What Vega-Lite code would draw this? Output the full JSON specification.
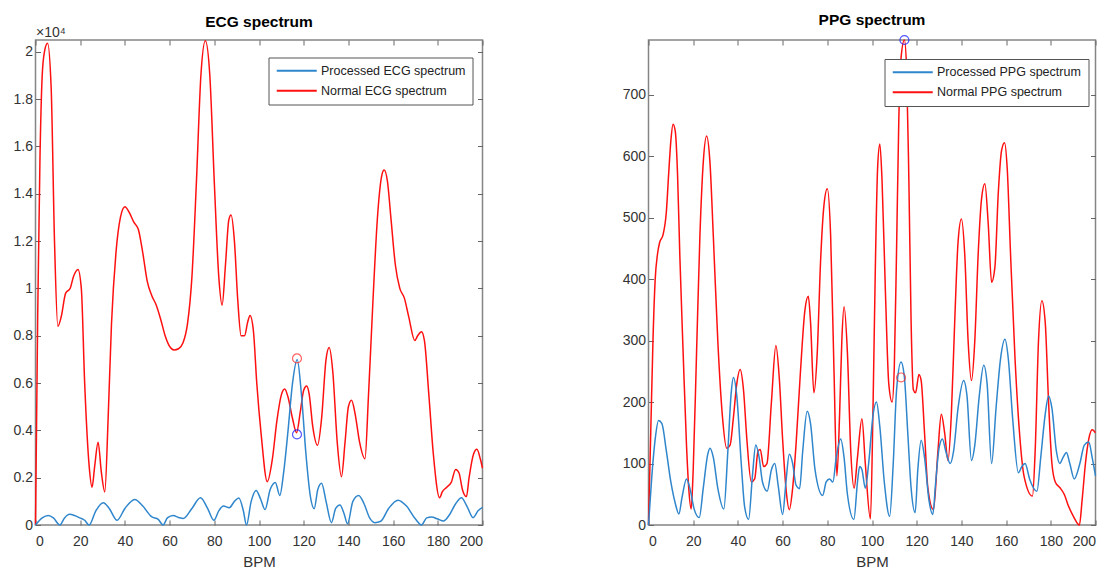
{
"$schema": "https://vega.github.io/schema/vega-lite/v6.json",
"padding": {"left": 11.5, "top": 12, "right": 12, "bottom": 4},
"background": "white",
"config": {
  "view": {"stroke": "#858585", "strokeWidth": 1.5},
  "font": "Liberation Sans",
  "axis": {"labelFont": "Liberation Sans", "labelFontSize": 14, "labelColor": "#333333", "titleFont": "Liberation Sans", "titleFontSize": 15, "titleFontWeight": "normal", "titleColor": "#333333", "grid": false, "domain": false, "tickColor": "#666666", "tickSize": -5, "tickWidth": 1},
  "title": {"font": "Liberation Sans", "fontSize": 15.5, "fontWeight": "bold", "color": "#000000", "frame": "group"},
  "legend": {"labelFont": "Liberation Sans", "labelFontSize": 12.5, "labelColor": "#222222"}
},
"datasets": {
  "ecg": [
    {"bpm":0,"val":0,"series":"Normal ECG spectrum"},
    {"bpm":1,"val":0.9,"series":"Normal ECG spectrum"},
    {"bpm":2,"val":1.55,"series":"Normal ECG spectrum"},
    {"bpm":3,"val":1.9,"series":"Normal ECG spectrum"},
    {"bpm":4,"val":2.0,"series":"Normal ECG spectrum"},
    {"bpm":5.4,"val":2.036,"series":"Normal ECG spectrum"},
    {"bpm":7,"val":1.85,"series":"Normal ECG spectrum"},
    {"bpm":8.5,"val":1.2,"series":"Normal ECG spectrum"},
    {"bpm":10,"val":0.84,"series":"Normal ECG spectrum"},
    {"bpm":11.5,"val":0.88,"series":"Normal ECG spectrum"},
    {"bpm":13.5,"val":0.98,"series":"Normal ECG spectrum"},
    {"bpm":15.5,"val":1.0,"series":"Normal ECG spectrum"},
    {"bpm":17,"val":1.05,"series":"Normal ECG spectrum"},
    {"bpm":19,"val":1.08,"series":"Normal ECG spectrum"},
    {"bpm":20.5,"val":1.0,"series":"Normal ECG spectrum"},
    {"bpm":22,"val":0.6,"series":"Normal ECG spectrum"},
    {"bpm":24,"val":0.25,"series":"Normal ECG spectrum"},
    {"bpm":25.3,"val":0.16,"series":"Normal ECG spectrum"},
    {"bpm":26.5,"val":0.25,"series":"Normal ECG spectrum"},
    {"bpm":28,"val":0.35,"series":"Normal ECG spectrum"},
    {"bpm":29.5,"val":0.22,"series":"Normal ECG spectrum"},
    {"bpm":31,"val":0.14,"series":"Normal ECG spectrum"},
    {"bpm":32.5,"val":0.45,"series":"Normal ECG spectrum"},
    {"bpm":34,"val":0.85,"series":"Normal ECG spectrum"},
    {"bpm":36,"val":1.15,"series":"Normal ECG spectrum"},
    {"bpm":38,"val":1.3,"series":"Normal ECG spectrum"},
    {"bpm":40,"val":1.345,"series":"Normal ECG spectrum"},
    {"bpm":42,"val":1.32,"series":"Normal ECG spectrum"},
    {"bpm":44,"val":1.28,"series":"Normal ECG spectrum"},
    {"bpm":46,"val":1.25,"series":"Normal ECG spectrum"},
    {"bpm":48,"val":1.15,"series":"Normal ECG spectrum"},
    {"bpm":50,"val":1.03,"series":"Normal ECG spectrum"},
    {"bpm":52,"val":0.97,"series":"Normal ECG spectrum"},
    {"bpm":54,"val":0.93,"series":"Normal ECG spectrum"},
    {"bpm":56,"val":0.87,"series":"Normal ECG spectrum"},
    {"bpm":58,"val":0.8,"series":"Normal ECG spectrum"},
    {"bpm":60,"val":0.755,"series":"Normal ECG spectrum"},
    {"bpm":62,"val":0.74,"series":"Normal ECG spectrum"},
    {"bpm":64,"val":0.745,"series":"Normal ECG spectrum"},
    {"bpm":66,"val":0.77,"series":"Normal ECG spectrum"},
    {"bpm":68,"val":0.85,"series":"Normal ECG spectrum"},
    {"bpm":70,"val":1.05,"series":"Normal ECG spectrum"},
    {"bpm":72,"val":1.45,"series":"Normal ECG spectrum"},
    {"bpm":74,"val":1.9,"series":"Normal ECG spectrum"},
    {"bpm":76,"val":2.047,"series":"Normal ECG spectrum"},
    {"bpm":78,"val":1.9,"series":"Normal ECG spectrum"},
    {"bpm":80,"val":1.45,"series":"Normal ECG spectrum"},
    {"bpm":82,"val":1.05,"series":"Normal ECG spectrum"},
    {"bpm":83.5,"val":0.93,"series":"Normal ECG spectrum"},
    {"bpm":85,"val":1.1,"series":"Normal ECG spectrum"},
    {"bpm":86.5,"val":1.29,"series":"Normal ECG spectrum"},
    {"bpm":87.5,"val":1.31,"series":"Normal ECG spectrum"},
    {"bpm":89,"val":1.2,"series":"Normal ECG spectrum"},
    {"bpm":90.5,"val":0.95,"series":"Normal ECG spectrum"},
    {"bpm":92,"val":0.8,"series":"Normal ECG spectrum"},
    {"bpm":93.5,"val":0.8,"series":"Normal ECG spectrum"},
    {"bpm":95,"val":0.86,"series":"Normal ECG spectrum"},
    {"bpm":96,"val":0.885,"series":"Normal ECG spectrum"},
    {"bpm":97.5,"val":0.82,"series":"Normal ECG spectrum"},
    {"bpm":99,"val":0.6,"series":"Normal ECG spectrum"},
    {"bpm":101,"val":0.38,"series":"Normal ECG spectrum"},
    {"bpm":103.7,"val":0.183,"series":"Normal ECG spectrum"},
    {"bpm":106,"val":0.28,"series":"Normal ECG spectrum"},
    {"bpm":108,"val":0.44,"series":"Normal ECG spectrum"},
    {"bpm":110,"val":0.55,"series":"Normal ECG spectrum"},
    {"bpm":111.5,"val":0.575,"series":"Normal ECG spectrum"},
    {"bpm":113,"val":0.54,"series":"Normal ECG spectrum"},
    {"bpm":115,"val":0.45,"series":"Normal ECG spectrum"},
    {"bpm":116.8,"val":0.39,"series":"Normal ECG spectrum"},
    {"bpm":118.5,"val":0.48,"series":"Normal ECG spectrum"},
    {"bpm":120,"val":0.57,"series":"Normal ECG spectrum"},
    {"bpm":121.3,"val":0.587,"series":"Normal ECG spectrum"},
    {"bpm":122.5,"val":0.55,"series":"Normal ECG spectrum"},
    {"bpm":124,"val":0.42,"series":"Normal ECG spectrum"},
    {"bpm":126.2,"val":0.337,"series":"Normal ECG spectrum"},
    {"bpm":128,"val":0.45,"series":"Normal ECG spectrum"},
    {"bpm":130,"val":0.7,"series":"Normal ECG spectrum"},
    {"bpm":131.4,"val":0.75,"series":"Normal ECG spectrum"},
    {"bpm":133,"val":0.65,"series":"Normal ECG spectrum"},
    {"bpm":135,"val":0.35,"series":"Normal ECG spectrum"},
    {"bpm":136.9,"val":0.204,"series":"Normal ECG spectrum"},
    {"bpm":138.5,"val":0.35,"series":"Normal ECG spectrum"},
    {"bpm":140,"val":0.5,"series":"Normal ECG spectrum"},
    {"bpm":141.4,"val":0.527,"series":"Normal ECG spectrum"},
    {"bpm":143,"val":0.47,"series":"Normal ECG spectrum"},
    {"bpm":145,"val":0.35,"series":"Normal ECG spectrum"},
    {"bpm":147.4,"val":0.28,"series":"Normal ECG spectrum"},
    {"bpm":149,"val":0.55,"series":"Normal ECG spectrum"},
    {"bpm":151,"val":0.95,"series":"Normal ECG spectrum"},
    {"bpm":153,"val":1.3,"series":"Normal ECG spectrum"},
    {"bpm":155,"val":1.48,"series":"Normal ECG spectrum"},
    {"bpm":156,"val":1.5,"series":"Normal ECG spectrum"},
    {"bpm":157.5,"val":1.45,"series":"Normal ECG spectrum"},
    {"bpm":159,"val":1.3,"series":"Normal ECG spectrum"},
    {"bpm":161,"val":1.1,"series":"Normal ECG spectrum"},
    {"bpm":163,"val":1.0,"series":"Normal ECG spectrum"},
    {"bpm":165,"val":0.96,"series":"Normal ECG spectrum"},
    {"bpm":167,"val":0.88,"series":"Normal ECG spectrum"},
    {"bpm":169.7,"val":0.78,"series":"Normal ECG spectrum"},
    {"bpm":171,"val":0.8,"series":"Normal ECG spectrum"},
    {"bpm":172.7,"val":0.817,"series":"Normal ECG spectrum"},
    {"bpm":174,"val":0.78,"series":"Normal ECG spectrum"},
    {"bpm":176,"val":0.55,"series":"Normal ECG spectrum"},
    {"bpm":178,"val":0.3,"series":"Normal ECG spectrum"},
    {"bpm":180.8,"val":0.115,"series":"Normal ECG spectrum"},
    {"bpm":182,"val":0.14,"series":"Normal ECG spectrum"},
    {"bpm":184,"val":0.16,"series":"Normal ECG spectrum"},
    {"bpm":186,"val":0.18,"series":"Normal ECG spectrum"},
    {"bpm":188,"val":0.235,"series":"Normal ECG spectrum"},
    {"bpm":189.5,"val":0.22,"series":"Normal ECG spectrum"},
    {"bpm":191,"val":0.15,"series":"Normal ECG spectrum"},
    {"bpm":192.8,"val":0.12,"series":"Normal ECG spectrum"},
    {"bpm":194,"val":0.2,"series":"Normal ECG spectrum"},
    {"bpm":196,"val":0.3,"series":"Normal ECG spectrum"},
    {"bpm":197.5,"val":0.32,"series":"Normal ECG spectrum"},
    {"bpm":199,"val":0.28,"series":"Normal ECG spectrum"},
    {"bpm":200,"val":0.24,"series":"Normal ECG spectrum"},
    {"bpm":0,"val":0,"series":"Processed ECG spectrum"},
    {"bpm":3,"val":0.03,"series":"Processed ECG spectrum"},
    {"bpm":5.7,"val":0.04,"series":"Processed ECG spectrum"},
    {"bpm":8,"val":0.03,"series":"Processed ECG spectrum"},
    {"bpm":10.9,"val":0,"series":"Processed ECG spectrum"},
    {"bpm":13,"val":0.03,"series":"Processed ECG spectrum"},
    {"bpm":15.3,"val":0.045,"series":"Processed ECG spectrum"},
    {"bpm":17.5,"val":0.04,"series":"Processed ECG spectrum"},
    {"bpm":19.8,"val":0.03,"series":"Processed ECG spectrum"},
    {"bpm":22,"val":0.02,"series":"Processed ECG spectrum"},
    {"bpm":24,"val":0,"series":"Processed ECG spectrum"},
    {"bpm":27,"val":0.06,"series":"Processed ECG spectrum"},
    {"bpm":30.3,"val":0.094,"series":"Processed ECG spectrum"},
    {"bpm":33,"val":0.07,"series":"Processed ECG spectrum"},
    {"bpm":36.5,"val":0.02,"series":"Processed ECG spectrum"},
    {"bpm":40,"val":0.07,"series":"Processed ECG spectrum"},
    {"bpm":44.4,"val":0.108,"series":"Processed ECG spectrum"},
    {"bpm":48,"val":0.08,"series":"Processed ECG spectrum"},
    {"bpm":51.9,"val":0.035,"series":"Processed ECG spectrum"},
    {"bpm":54.9,"val":0.024,"series":"Processed ECG spectrum"},
    {"bpm":57.1,"val":0,"series":"Processed ECG spectrum"},
    {"bpm":59,"val":0.03,"series":"Processed ECG spectrum"},
    {"bpm":61.6,"val":0.04,"series":"Processed ECG spectrum"},
    {"bpm":64,"val":0.032,"series":"Processed ECG spectrum"},
    {"bpm":66.1,"val":0.027,"series":"Processed ECG spectrum"},
    {"bpm":70,"val":0.07,"series":"Processed ECG spectrum"},
    {"bpm":73.8,"val":0.115,"series":"Processed ECG spectrum"},
    {"bpm":77,"val":0.07,"series":"Processed ECG spectrum"},
    {"bpm":79.8,"val":0.02,"series":"Processed ECG spectrum"},
    {"bpm":82,"val":0.06,"series":"Processed ECG spectrum"},
    {"bpm":84.1,"val":0.08,"series":"Processed ECG spectrum"},
    {"bpm":86.7,"val":0.073,"series":"Processed ECG spectrum"},
    {"bpm":89,"val":0.1,"series":"Processed ECG spectrum"},
    {"bpm":91,"val":0.114,"series":"Processed ECG spectrum"},
    {"bpm":93,"val":0.06,"series":"Processed ECG spectrum"},
    {"bpm":94.4,"val":0,"series":"Processed ECG spectrum"},
    {"bpm":96.5,"val":0.1,"series":"Processed ECG spectrum"},
    {"bpm":98.7,"val":0.146,"series":"Processed ECG spectrum"},
    {"bpm":100.7,"val":0.11,"series":"Processed ECG spectrum"},
    {"bpm":102.7,"val":0.065,"series":"Processed ECG spectrum"},
    {"bpm":105,"val":0.15,"series":"Processed ECG spectrum"},
    {"bpm":107.3,"val":0.18,"series":"Processed ECG spectrum"},
    {"bpm":109.3,"val":0.125,"series":"Processed ECG spectrum"},
    {"bpm":111,"val":0.22,"series":"Processed ECG spectrum"},
    {"bpm":113,"val":0.4,"series":"Processed ECG spectrum"},
    {"bpm":115,"val":0.6,"series":"Processed ECG spectrum"},
    {"bpm":117.1,"val":0.7,"series":"Processed ECG spectrum"},
    {"bpm":119,"val":0.55,"series":"Processed ECG spectrum"},
    {"bpm":121,"val":0.3,"series":"Processed ECG spectrum"},
    {"bpm":123,"val":0.12,"series":"Processed ECG spectrum"},
    {"bpm":124.7,"val":0.069,"series":"Processed ECG spectrum"},
    {"bpm":126.3,"val":0.15,"series":"Processed ECG spectrum"},
    {"bpm":128,"val":0.176,"series":"Processed ECG spectrum"},
    {"bpm":130,"val":0.1,"series":"Processed ECG spectrum"},
    {"bpm":132.4,"val":0.01,"series":"Processed ECG spectrum"},
    {"bpm":134.3,"val":0.07,"series":"Processed ECG spectrum"},
    {"bpm":136.2,"val":0.085,"series":"Processed ECG spectrum"},
    {"bpm":138,"val":0.05,"series":"Processed ECG spectrum"},
    {"bpm":139.6,"val":0.005,"series":"Processed ECG spectrum"},
    {"bpm":142,"val":0.1,"series":"Processed ECG spectrum"},
    {"bpm":144.6,"val":0.125,"series":"Processed ECG spectrum"},
    {"bpm":147,"val":0.09,"series":"Processed ECG spectrum"},
    {"bpm":149.5,"val":0.03,"series":"Processed ECG spectrum"},
    {"bpm":151.8,"val":0.01,"series":"Processed ECG spectrum"},
    {"bpm":154.5,"val":0.016,"series":"Processed ECG spectrum"},
    {"bpm":158,"val":0.07,"series":"Processed ECG spectrum"},
    {"bpm":162.2,"val":0.105,"series":"Processed ECG spectrum"},
    {"bpm":166,"val":0.08,"series":"Processed ECG spectrum"},
    {"bpm":170,"val":0.025,"series":"Processed ECG spectrum"},
    {"bpm":172.7,"val":0,"series":"Processed ECG spectrum"},
    {"bpm":175,"val":0.03,"series":"Processed ECG spectrum"},
    {"bpm":177.2,"val":0.034,"series":"Processed ECG spectrum"},
    {"bpm":180,"val":0.025,"series":"Processed ECG spectrum"},
    {"bpm":182.6,"val":0.017,"series":"Processed ECG spectrum"},
    {"bpm":185,"val":0.04,"series":"Processed ECG spectrum"},
    {"bpm":188,"val":0.09,"series":"Processed ECG spectrum"},
    {"bpm":190.6,"val":0.115,"series":"Processed ECG spectrum"},
    {"bpm":193,"val":0.08,"series":"Processed ECG spectrum"},
    {"bpm":195.8,"val":0.031,"series":"Processed ECG spectrum"},
    {"bpm":198,"val":0.06,"series":"Processed ECG spectrum"},
    {"bpm":200,"val":0.075,"series":"Processed ECG spectrum"}
  ],
  "ppg": [
    {"bpm":0,"val":0,"series":"Normal PPG spectrum"},
    {"bpm":1,"val":150,"series":"Normal PPG spectrum"},
    {"bpm":2,"val":300,"series":"Normal PPG spectrum"},
    {"bpm":3,"val":400,"series":"Normal PPG spectrum"},
    {"bpm":4,"val":440,"series":"Normal PPG spectrum"},
    {"bpm":5,"val":460,"series":"Normal PPG spectrum"},
    {"bpm":6.5,"val":472,"series":"Normal PPG spectrum"},
    {"bpm":8,"val":510,"series":"Normal PPG spectrum"},
    {"bpm":9,"val":570,"series":"Normal PPG spectrum"},
    {"bpm":10,"val":625,"series":"Normal PPG spectrum"},
    {"bpm":11,"val":652,"series":"Normal PPG spectrum"},
    {"bpm":12,"val":640,"series":"Normal PPG spectrum"},
    {"bpm":13,"val":570,"series":"Normal PPG spectrum"},
    {"bpm":14,"val":440,"series":"Normal PPG spectrum"},
    {"bpm":15.5,"val":280,"series":"Normal PPG spectrum"},
    {"bpm":17,"val":130,"series":"Normal PPG spectrum"},
    {"bpm":18,"val":60,"series":"Normal PPG spectrum"},
    {"bpm":19.1,"val":26,"series":"Normal PPG spectrum"},
    {"bpm":20,"val":90,"series":"Normal PPG spectrum"},
    {"bpm":21.5,"val":280,"series":"Normal PPG spectrum"},
    {"bpm":23,"val":470,"series":"Normal PPG spectrum"},
    {"bpm":24.5,"val":590,"series":"Normal PPG spectrum"},
    {"bpm":26,"val":633,"series":"Normal PPG spectrum"},
    {"bpm":27.5,"val":590,"series":"Normal PPG spectrum"},
    {"bpm":29,"val":470,"series":"Normal PPG spectrum"},
    {"bpm":31,"val":300,"series":"Normal PPG spectrum"},
    {"bpm":33,"val":180,"series":"Normal PPG spectrum"},
    {"bpm":35,"val":125,"series":"Normal PPG spectrum"},
    {"bpm":36.5,"val":130,"series":"Normal PPG spectrum"},
    {"bpm":38,"val":175,"series":"Normal PPG spectrum"},
    {"bpm":39.5,"val":230,"series":"Normal PPG spectrum"},
    {"bpm":41,"val":253,"series":"Normal PPG spectrum"},
    {"bpm":42.5,"val":220,"series":"Normal PPG spectrum"},
    {"bpm":44,"val":140,"series":"Normal PPG spectrum"},
    {"bpm":46,"val":70,"series":"Normal PPG spectrum"},
    {"bpm":47.5,"val":75,"series":"Normal PPG spectrum"},
    {"bpm":49,"val":120,"series":"Normal PPG spectrum"},
    {"bpm":50,"val":123,"series":"Normal PPG spectrum"},
    {"bpm":51.5,"val":95,"series":"Normal PPG spectrum"},
    {"bpm":53,"val":100,"series":"Normal PPG spectrum"},
    {"bpm":55,"val":200,"series":"Normal PPG spectrum"},
    {"bpm":57,"val":292,"series":"Normal PPG spectrum"},
    {"bpm":58.5,"val":240,"series":"Normal PPG spectrum"},
    {"bpm":60,"val":140,"series":"Normal PPG spectrum"},
    {"bpm":61.5,"val":60,"series":"Normal PPG spectrum"},
    {"bpm":63,"val":25,"series":"Normal PPG spectrum"},
    {"bpm":64.5,"val":60,"series":"Normal PPG spectrum"},
    {"bpm":66,"val":130,"series":"Normal PPG spectrum"},
    {"bpm":68,"val":250,"series":"Normal PPG spectrum"},
    {"bpm":70,"val":350,"series":"Normal PPG spectrum"},
    {"bpm":71.5,"val":372,"series":"Normal PPG spectrum"},
    {"bpm":72.5,"val":330,"series":"Normal PPG spectrum"},
    {"bpm":74,"val":215,"series":"Normal PPG spectrum"},
    {"bpm":75.5,"val":280,"series":"Normal PPG spectrum"},
    {"bpm":77,"val":430,"series":"Normal PPG spectrum"},
    {"bpm":78.5,"val":520,"series":"Normal PPG spectrum"},
    {"bpm":80,"val":547,"series":"Normal PPG spectrum"},
    {"bpm":81.5,"val":470,"series":"Normal PPG spectrum"},
    {"bpm":83,"val":250,"series":"Normal PPG spectrum"},
    {"bpm":84.3,"val":80,"series":"Normal PPG spectrum"},
    {"bpm":85.5,"val":180,"series":"Normal PPG spectrum"},
    {"bpm":86.5,"val":300,"series":"Normal PPG spectrum"},
    {"bpm":87.5,"val":355,"series":"Normal PPG spectrum"},
    {"bpm":89,"val":280,"series":"Normal PPG spectrum"},
    {"bpm":90.5,"val":120,"series":"Normal PPG spectrum"},
    {"bpm":92,"val":60,"series":"Normal PPG spectrum"},
    {"bpm":93.5,"val":110,"series":"Normal PPG spectrum"},
    {"bpm":95.5,"val":173,"series":"Normal PPG spectrum"},
    {"bpm":97,"val":100,"series":"Normal PPG spectrum"},
    {"bpm":99.3,"val":10,"series":"Normal PPG spectrum"},
    {"bpm":100.5,"val":200,"series":"Normal PPG spectrum"},
    {"bpm":101.5,"val":420,"series":"Normal PPG spectrum"},
    {"bpm":102.5,"val":580,"series":"Normal PPG spectrum"},
    {"bpm":103.5,"val":620,"series":"Normal PPG spectrum"},
    {"bpm":104.5,"val":560,"series":"Normal PPG spectrum"},
    {"bpm":106,"val":380,"series":"Normal PPG spectrum"},
    {"bpm":107.5,"val":230,"series":"Normal PPG spectrum"},
    {"bpm":109,"val":200,"series":"Normal PPG spectrum"},
    {"bpm":110,"val":260,"series":"Normal PPG spectrum"},
    {"bpm":111,"val":450,"series":"Normal PPG spectrum"},
    {"bpm":112,"val":660,"series":"Normal PPG spectrum"},
    {"bpm":113,"val":760,"series":"Normal PPG spectrum"},
    {"bpm":114.5,"val":789,"series":"Normal PPG spectrum"},
    {"bpm":115.5,"val":740,"series":"Normal PPG spectrum"},
    {"bpm":116.5,"val":560,"series":"Normal PPG spectrum"},
    {"bpm":117.5,"val":330,"series":"Normal PPG spectrum"},
    {"bpm":118.5,"val":220,"series":"Normal PPG spectrum"},
    {"bpm":119.5,"val":215,"series":"Normal PPG spectrum"},
    {"bpm":121,"val":245,"series":"Normal PPG spectrum"},
    {"bpm":122,"val":235,"series":"Normal PPG spectrum"},
    {"bpm":123.5,"val":150,"series":"Normal PPG spectrum"},
    {"bpm":125,"val":60,"series":"Normal PPG spectrum"},
    {"bpm":127.5,"val":25,"series":"Normal PPG spectrum"},
    {"bpm":129.5,"val":120,"series":"Normal PPG spectrum"},
    {"bpm":131,"val":180,"series":"Normal PPG spectrum"},
    {"bpm":132.5,"val":150,"series":"Normal PPG spectrum"},
    {"bpm":134,"val":105,"series":"Normal PPG spectrum"},
    {"bpm":135.5,"val":180,"series":"Normal PPG spectrum"},
    {"bpm":137,"val":330,"series":"Normal PPG spectrum"},
    {"bpm":138.5,"val":460,"series":"Normal PPG spectrum"},
    {"bpm":140,"val":498,"series":"Normal PPG spectrum"},
    {"bpm":141.5,"val":440,"series":"Normal PPG spectrum"},
    {"bpm":143,"val":300,"series":"Normal PPG spectrum"},
    {"bpm":144.5,"val":235,"series":"Normal PPG spectrum"},
    {"bpm":146,"val":300,"series":"Normal PPG spectrum"},
    {"bpm":147.5,"val":440,"series":"Normal PPG spectrum"},
    {"bpm":149,"val":530,"series":"Normal PPG spectrum"},
    {"bpm":150.5,"val":555,"series":"Normal PPG spectrum"},
    {"bpm":152,"val":490,"series":"Normal PPG spectrum"},
    {"bpm":153.5,"val":395,"series":"Normal PPG spectrum"},
    {"bpm":155,"val":420,"series":"Normal PPG spectrum"},
    {"bpm":156.5,"val":540,"series":"Normal PPG spectrum"},
    {"bpm":158,"val":610,"series":"Normal PPG spectrum"},
    {"bpm":159.3,"val":622,"series":"Normal PPG spectrum"},
    {"bpm":160.5,"val":580,"series":"Normal PPG spectrum"},
    {"bpm":162,"val":440,"series":"Normal PPG spectrum"},
    {"bpm":164,"val":270,"series":"Normal PPG spectrum"},
    {"bpm":166,"val":150,"series":"Normal PPG spectrum"},
    {"bpm":168,"val":80,"series":"Normal PPG spectrum"},
    {"bpm":171.8,"val":47,"series":"Normal PPG spectrum"},
    {"bpm":173,"val":120,"series":"Normal PPG spectrum"},
    {"bpm":174.5,"val":300,"series":"Normal PPG spectrum"},
    {"bpm":176,"val":365,"series":"Normal PPG spectrum"},
    {"bpm":177.5,"val":330,"series":"Normal PPG spectrum"},
    {"bpm":179,"val":200,"series":"Normal PPG spectrum"},
    {"bpm":180.5,"val":100,"series":"Normal PPG spectrum"},
    {"bpm":182,"val":70,"series":"Normal PPG spectrum"},
    {"bpm":184,"val":61,"series":"Normal PPG spectrum"},
    {"bpm":186,"val":50,"series":"Normal PPG spectrum"},
    {"bpm":188,"val":30,"series":"Normal PPG spectrum"},
    {"bpm":190,"val":15,"series":"Normal PPG spectrum"},
    {"bpm":192.8,"val":0,"series":"Normal PPG spectrum"},
    {"bpm":194,"val":40,"series":"Normal PPG spectrum"},
    {"bpm":195.5,"val":100,"series":"Normal PPG spectrum"},
    {"bpm":197,"val":140,"series":"Normal PPG spectrum"},
    {"bpm":198.5,"val":155,"series":"Normal PPG spectrum"},
    {"bpm":200,"val":150,"series":"Normal PPG spectrum"},
    {"bpm":0,"val":0,"series":"Processed PPG spectrum"},
    {"bpm":1.5,"val":80,"series":"Processed PPG spectrum"},
    {"bpm":3,"val":140,"series":"Processed PPG spectrum"},
    {"bpm":4.5,"val":170,"series":"Processed PPG spectrum"},
    {"bpm":6,"val":165,"series":"Processed PPG spectrum"},
    {"bpm":8,"val":120,"series":"Processed PPG spectrum"},
    {"bpm":10,"val":70,"series":"Processed PPG spectrum"},
    {"bpm":12,"val":35,"series":"Processed PPG spectrum"},
    {"bpm":13.6,"val":18,"series":"Processed PPG spectrum"},
    {"bpm":15,"val":45,"series":"Processed PPG spectrum"},
    {"bpm":17,"val":75,"series":"Processed PPG spectrum"},
    {"bpm":18.5,"val":60,"series":"Processed PPG spectrum"},
    {"bpm":20.5,"val":25,"series":"Processed PPG spectrum"},
    {"bpm":22.7,"val":12,"series":"Processed PPG spectrum"},
    {"bpm":24.5,"val":60,"series":"Processed PPG spectrum"},
    {"bpm":26.5,"val":115,"series":"Processed PPG spectrum"},
    {"bpm":27.5,"val":125,"series":"Processed PPG spectrum"},
    {"bpm":29,"val":110,"series":"Processed PPG spectrum"},
    {"bpm":31,"val":60,"series":"Processed PPG spectrum"},
    {"bpm":33.7,"val":26,"series":"Processed PPG spectrum"},
    {"bpm":35.5,"val":120,"series":"Processed PPG spectrum"},
    {"bpm":37,"val":215,"series":"Processed PPG spectrum"},
    {"bpm":38,"val":240,"series":"Processed PPG spectrum"},
    {"bpm":39.5,"val":210,"series":"Processed PPG spectrum"},
    {"bpm":41.5,"val":100,"series":"Processed PPG spectrum"},
    {"bpm":43,"val":30,"series":"Processed PPG spectrum"},
    {"bpm":44.8,"val":9,"series":"Processed PPG spectrum"},
    {"bpm":46.5,"val":80,"series":"Processed PPG spectrum"},
    {"bpm":48,"val":130,"series":"Processed PPG spectrum"},
    {"bpm":49.5,"val":110,"series":"Processed PPG spectrum"},
    {"bpm":51,"val":70,"series":"Processed PPG spectrum"},
    {"bpm":53.1,"val":55,"series":"Processed PPG spectrum"},
    {"bpm":55,"val":90,"series":"Processed PPG spectrum"},
    {"bpm":56.5,"val":100,"series":"Processed PPG spectrum"},
    {"bpm":58,"val":65,"series":"Processed PPG spectrum"},
    {"bpm":60,"val":17,"series":"Processed PPG spectrum"},
    {"bpm":61.5,"val":70,"series":"Processed PPG spectrum"},
    {"bpm":63,"val":115,"series":"Processed PPG spectrum"},
    {"bpm":64.5,"val":100,"series":"Processed PPG spectrum"},
    {"bpm":66,"val":65,"series":"Processed PPG spectrum"},
    {"bpm":67.6,"val":59,"series":"Processed PPG spectrum"},
    {"bpm":69,"val":120,"series":"Processed PPG spectrum"},
    {"bpm":71,"val":185,"series":"Processed PPG spectrum"},
    {"bpm":72.5,"val":165,"series":"Processed PPG spectrum"},
    {"bpm":74.5,"val":90,"series":"Processed PPG spectrum"},
    {"bpm":77.9,"val":48,"series":"Processed PPG spectrum"},
    {"bpm":79.5,"val":70,"series":"Processed PPG spectrum"},
    {"bpm":81,"val":75,"series":"Processed PPG spectrum"},
    {"bpm":82.5,"val":70,"series":"Processed PPG spectrum"},
    {"bpm":84,"val":110,"series":"Processed PPG spectrum"},
    {"bpm":86,"val":140,"series":"Processed PPG spectrum"},
    {"bpm":87.5,"val":110,"series":"Processed PPG spectrum"},
    {"bpm":89,"val":50,"series":"Processed PPG spectrum"},
    {"bpm":91.9,"val":9,"series":"Processed PPG spectrum"},
    {"bpm":93.5,"val":70,"series":"Processed PPG spectrum"},
    {"bpm":94.5,"val":95,"series":"Processed PPG spectrum"},
    {"bpm":95.5,"val":90,"series":"Processed PPG spectrum"},
    {"bpm":97,"val":60,"series":"Processed PPG spectrum"},
    {"bpm":98.5,"val":100,"series":"Processed PPG spectrum"},
    {"bpm":100.5,"val":180,"series":"Processed PPG spectrum"},
    {"bpm":102,"val":200,"series":"Processed PPG spectrum"},
    {"bpm":103.5,"val":160,"series":"Processed PPG spectrum"},
    {"bpm":105.5,"val":70,"series":"Processed PPG spectrum"},
    {"bpm":107.9,"val":14,"series":"Processed PPG spectrum"},
    {"bpm":109.5,"val":100,"series":"Processed PPG spectrum"},
    {"bpm":111,"val":220,"series":"Processed PPG spectrum"},
    {"bpm":113,"val":265,"series":"Processed PPG spectrum"},
    {"bpm":114.5,"val":240,"series":"Processed PPG spectrum"},
    {"bpm":116,"val":150,"series":"Processed PPG spectrum"},
    {"bpm":117.5,"val":60,"series":"Processed PPG spectrum"},
    {"bpm":119.3,"val":20,"series":"Processed PPG spectrum"},
    {"bpm":120.5,"val":90,"series":"Processed PPG spectrum"},
    {"bpm":122,"val":138,"series":"Processed PPG spectrum"},
    {"bpm":123.5,"val":110,"series":"Processed PPG spectrum"},
    {"bpm":125.5,"val":40,"series":"Processed PPG spectrum"},
    {"bpm":127.2,"val":17,"series":"Processed PPG spectrum"},
    {"bpm":128.5,"val":70,"series":"Processed PPG spectrum"},
    {"bpm":130,"val":125,"series":"Processed PPG spectrum"},
    {"bpm":131.5,"val":140,"series":"Processed PPG spectrum"},
    {"bpm":133,"val":120,"series":"Processed PPG spectrum"},
    {"bpm":135,"val":100,"series":"Processed PPG spectrum"},
    {"bpm":136.5,"val":120,"series":"Processed PPG spectrum"},
    {"bpm":138.5,"val":190,"series":"Processed PPG spectrum"},
    {"bpm":141,"val":235,"series":"Processed PPG spectrum"},
    {"bpm":142.5,"val":210,"series":"Processed PPG spectrum"},
    {"bpm":144.5,"val":105,"series":"Processed PPG spectrum"},
    {"bpm":146,"val":130,"series":"Processed PPG spectrum"},
    {"bpm":148,"val":210,"series":"Processed PPG spectrum"},
    {"bpm":150,"val":260,"series":"Processed PPG spectrum"},
    {"bpm":151.5,"val":230,"series":"Processed PPG spectrum"},
    {"bpm":153.5,"val":100,"series":"Processed PPG spectrum"},
    {"bpm":155.5,"val":190,"series":"Processed PPG spectrum"},
    {"bpm":157.5,"val":270,"series":"Processed PPG spectrum"},
    {"bpm":159.5,"val":302,"series":"Processed PPG spectrum"},
    {"bpm":161,"val":270,"series":"Processed PPG spectrum"},
    {"bpm":163,"val":170,"series":"Processed PPG spectrum"},
    {"bpm":165.5,"val":85,"series":"Processed PPG spectrum"},
    {"bpm":167,"val":95,"series":"Processed PPG spectrum"},
    {"bpm":168.5,"val":100,"series":"Processed PPG spectrum"},
    {"bpm":170.5,"val":75,"series":"Processed PPG spectrum"},
    {"bpm":173.8,"val":55,"series":"Processed PPG spectrum"},
    {"bpm":175.5,"val":110,"series":"Processed PPG spectrum"},
    {"bpm":177.5,"val":180,"series":"Processed PPG spectrum"},
    {"bpm":179,"val":210,"series":"Processed PPG spectrum"},
    {"bpm":180.5,"val":190,"series":"Processed PPG spectrum"},
    {"bpm":182.5,"val":120,"series":"Processed PPG spectrum"},
    {"bpm":184,"val":100,"series":"Processed PPG spectrum"},
    {"bpm":185.5,"val":110,"series":"Processed PPG spectrum"},
    {"bpm":187,"val":118,"series":"Processed PPG spectrum"},
    {"bpm":188.5,"val":100,"series":"Processed PPG spectrum"},
    {"bpm":190.5,"val":75,"series":"Processed PPG spectrum"},
    {"bpm":193,"val":100,"series":"Processed PPG spectrum"},
    {"bpm":195,"val":130,"series":"Processed PPG spectrum"},
    {"bpm":197,"val":135,"series":"Processed PPG spectrum"},
    {"bpm":198.5,"val":110,"series":"Processed PPG spectrum"},
    {"bpm":200,"val":80,"series":"Processed PPG spectrum"}
  ]
},
"hconcat": [
  {
    "width": 447, "height": 485,
    "title": {"text": "ECG spectrum", "offset": -5.5},
    "layer": [
      {
        "data": {"name": "ecg"},
        "mark": {"type": "line", "interpolate": "monotone", "strokeWidth": 1.5},
        "encoding": {
          "x": {"field": "bpm", "type": "quantitative", "scale": {"domain": [0, 200], "nice": false},
                "axis": {"orient": "bottom", "values": [0,20,40,60,80,100,120,140,160,180,200], "title": "BPM", "labelPadding": 14, "titlePadding": 6}},
          "y": {"field": "val", "type": "quantitative", "scale": {"domain": [0, 2.05], "nice": false, "zero": true},
                "axis": {"orient": "left", "values": [0,0.2,0.4,0.6,0.8,1,1.2,1.4,1.6,1.8,2], "format": "~g", "labelPadding": 8,
                         "title": "×10⁴", "titleAngle": 0, "titleX": 0, "titleY": -4, "titleAlign": "left", "titleBaseline": "alphabetic", "titleFontSize": 14}},
          "color": {"field": "series", "type": "nominal",
                    "scale": {"domain": ["Processed ECG spectrum", "Normal ECG spectrum"], "range": ["#2f86cc", "#ff1010"]},
                    "legend": {"title": null, "orient": "none", "legendX": 233, "legendY": 17.5, "symbolType": "M-1,0H7", "symbolSize": 100, "symbolStrokeWidth": 2,
                               "strokeColor": "#555555", "fillColor": "white", "padding": 7, "labelOffset": 33, "rowPadding": 7}}
        }
      },
      {
        "data": {"values": [{"bpm": 117, "val": 0.704}]},
        "mark": {"type": "point", "shape": "circle", "filled": false, "size": 80, "strokeWidth": 1.2, "color": "#ff2020", "clip": false},
        "encoding": {
          "x": {"field": "bpm", "type": "quantitative", "axis": {"orient": "top", "values": [0,20,40,60,80,100,120,140,160,180,200], "labels": false, "title": null}},
          "y": {"field": "val", "type": "quantitative", "axis": {"orient": "right", "values": [0,0.2,0.4,0.6,0.8,1,1.2,1.4,1.6,1.8,2], "labels": false, "title": null}}
        }
      },
      {
        "data": {"values": [{"bpm": 117, "val": 0.383}]},
        "mark": {"type": "point", "shape": "circle", "filled": false, "size": 80, "strokeWidth": 1.2, "color": "#1010ff", "clip": false},
        "encoding": {
          "x": {"field": "bpm", "type": "quantitative", "axis": null},
          "y": {"field": "val", "type": "quantitative", "axis": null}
        }
      }
    ],
    "resolve": {"axis": {"x": "independent", "y": "independent"}}
  },
  {
    "width": 447, "height": 485,
    "title": {"text": "PPG spectrum", "offset": 4.3},
    "layer": [
      {
        "data": {"name": "ppg"},
        "mark": {"type": "line", "interpolate": "monotone", "strokeWidth": 1.5},
        "encoding": {
          "x": {"field": "bpm", "type": "quantitative", "scale": {"domain": [0, 200], "nice": false},
                "axis": {"orient": "bottom", "values": [0,20,40,60,80,100,120,140,160,180,200], "title": "BPM", "labelPadding": 14, "titlePadding": 6}},
          "y": {"field": "val", "type": "quantitative", "scale": {"domain": [0, 789], "nice": false, "zero": true},
                "axis": {"orient": "left", "values": [0,100,200,300,400,500,600,700], "labelPadding": 8, "title": null}},
          "color": {"field": "series", "type": "nominal",
                    "scale": {"domain": ["Processed PPG spectrum", "Normal PPG spectrum"], "range": ["#2f86cc", "#ff1010"]},
                    "legend": {"title": null, "orient": "none", "legendX": 236, "legendY": 19, "symbolType": "M-1,0H7", "symbolSize": 100, "symbolStrokeWidth": 2,
                               "strokeColor": "#555555", "fillColor": "white", "padding": 7, "labelOffset": 33, "rowPadding": 7}}
        }
      },
      {
        "data": {"values": [{"bpm": 113, "val": 240}]},
        "mark": {"type": "point", "shape": "circle", "filled": false, "size": 80, "strokeWidth": 1.2, "color": "#ff2020", "clip": false},
        "encoding": {
          "x": {"field": "bpm", "type": "quantitative", "axis": {"orient": "top", "values": [0,20,40,60,80,100,120,140,160,180,200], "labels": false, "title": null}},
          "y": {"field": "val", "type": "quantitative", "axis": {"orient": "right", "values": [0,100,200,300,400,500,600,700], "labels": false, "title": null}}
        }
      },
      {
        "data": {"values": [{"bpm": 114.5, "val": 789}]},
        "mark": {"type": "point", "shape": "circle", "filled": false, "size": 80, "strokeWidth": 1.2, "color": "#1010ff", "clip": false},
        "encoding": {
          "x": {"field": "bpm", "type": "quantitative", "axis": null},
          "y": {"field": "val", "type": "quantitative", "axis": null}
        }
      }
    ],
    "resolve": {"axis": {"x": "independent", "y": "independent"}}
  }
],
"bounds": "flush",
"spacing": 166,
"resolve": {"scale": {"color": "independent"}, "legend": {"color": "independent"}}
}
